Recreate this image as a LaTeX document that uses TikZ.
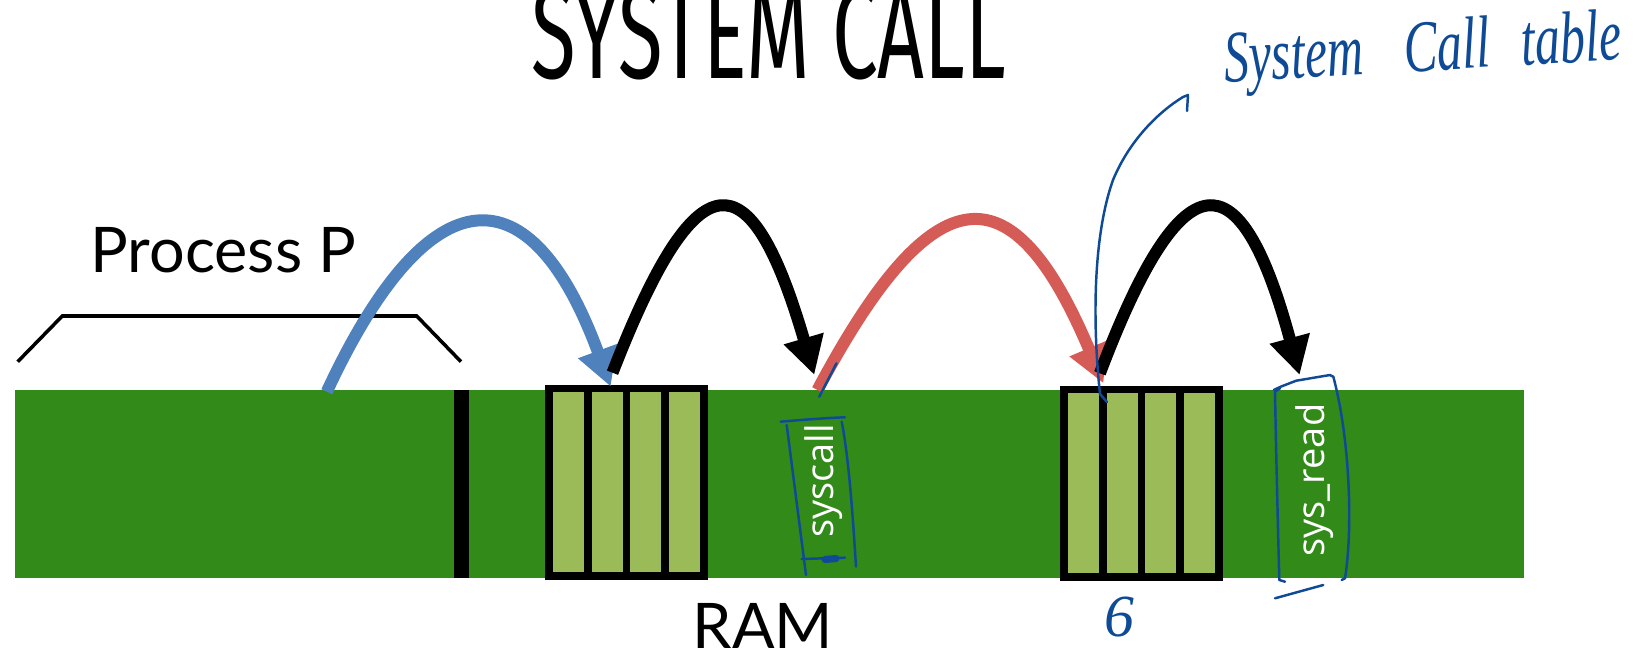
\documentclass[tikz,border=0pt]{standalone}
\usepackage{graphicx}
\usepackage{fontspec}
\setmainfont{Lato}
\newfontfamily\titlefont{Fira Sans}
\newfontfamily\cellfont{Open Sans}
\newfontfamily\inkfont{Liberation Serif}
\usetikzlibrary{arrows.meta,calc}

\definecolor{ramgreen}{RGB}{50,138,25}
\definecolor{cellgreen}{RGB}{155,187,89}
\definecolor{jumpblue}{RGB}{79,129,189}
\definecolor{jumpred}{RGB}{213,91,86}
\definecolor{ink}{RGB}{14,74,150}

\tikzset{
  tablebox/.style={fill=black, minimum width=1.63cm, minimum height=1.95cm, inner sep=0pt, outer sep=0pt},
  tablecell/.style={fill=cellgreen, minimum width=0.311cm, minimum height=1.80cm, inner sep=0pt, outer sep=0pt},
  jump/.style={line width=0.12cm, -{Triangle[length=0.38cm,width=0.39cm]}},
  pen/.style={ink, line width=0.7pt, line cap=round, line join=round},
  handtext/.style={ink, font=\inkfont\itshape, inner sep=0pt},
  celltext/.style={white, font=\cellfont\fontsize{10.8}{10.8}\selectfont, rotate=90, inner sep=0pt}
}

\begin{document}
\begin{tikzpicture}
		\useasboundingbox (0,0) rectangle (16.33,6.49);

		% the memory strip
		\fill[ramgreen] (0.15,0.713) rectangle (15.24,2.59);
		\fill[black] (4.54,0.713) rectangle (4.69,2.59);% end of process P

		% two tables of four entries each
		\foreach \Name/\X/\Y in {TabA/5.45/0.69, TabB/10.60/0.68}{%
		  \node[tablebox, anchor=south west] (\Name) at (\X,\Y) {};
		  \foreach \i in {1,...,4}{% one entry per slot
			\node[tablecell, anchor=south west] (\Name\i) at ({\X+0.077+(\i-1)*0.388},{\Y+0.077}) {};
		  }
		}

		\node[celltext] (Syscall) at (8.233,1.68) {syscall};
		\node[celltext] (SysRead) at (13.15,1.69) {sys\_read};

		% labels
		\node[font=\titlefont\fontsize{37.5}{37.5}\selectfont, anchor=base] (Title) at (7.69,5.70) {\scalebox{0.62}[1]{SYSTEM CALL}};
		\node[font=\fontsize{17.9}{17.9}\selectfont, anchor=base] (ProcP) at (2.235,3.76) {Process P};
		\node[font=\fontsize{17.9}{17.9}\selectfont, anchor=base] (Ram) at (7.63,0.01) {RAM};
		\draw[line width=1pt] (0.177,2.873) -- (0.623,3.33) -- (4.167,3.33) -- (4.61,2.873);% span of P

		% ends of the jumps
		\coordinate (CallSite)   at (3.268,2.573);
		\coordinate (TabAIn)     at (6.107,2.623);
		\coordinate (TabAOut)    at (6.125,2.763);
		\coordinate (SyscallIn)  at (8.143,2.740);
		\coordinate (SyscallOut) at (8.175,2.590);
		\coordinate (TabBIn)     at (11.034,2.657);
		\coordinate (TabBOut)    at (10.999,2.757);
		\coordinate (SysReadIn)  at (12.996,2.740);

		\draw[jump, jumpblue] (CallSite) .. controls (4.30,4.79) and (5.31,4.79) .. (TabAIn);
		\draw[jump, black] (TabAOut) .. controls (6.97,4.94) and (7.50,4.94) .. (SyscallIn);
		\draw[jump, jumpred] (SyscallOut) .. controls (9.35,4.80) and (10.13,4.80) .. (TabBIn);
		\draw[jump, black] (TabBOut) .. controls (11.825,4.94) and (12.40,4.94) .. (SysReadIn);

		% pen notes
		\node[handtext, font=\inkfont\itshape\fontsize{21}{21}\selectfont, rotate=3.3, anchor=base] (TableNote) at (14.24,5.78) {\scalebox{0.68}[1]{System\hspace{0.6cm}Call\hspace{0.45cm}table}};
		\node[handtext, font=\inkfont\itshape\fontsize{17}{17}\selectfont] (Six) at (11.19,0.32) {6};
		\coordinate (HookTop) at (11.83,5.52);
		\draw[pen] ($(TabB2.north west)+(0.005,-0.087)$) -- (11.0,2.55)
		  .. controls (10.93,3.2) and (10.92,4.1) .. (11.13,4.69)
		  .. controls (11.3,5.1) and (11.6,5.38) .. (HookTop) -- (11.88,5.54) -- (11.87,5.38);

		% box round syscall
		\draw[pen] (7.807,2.273) .. controls (8.0,2.29) and (8.25,2.31) .. (8.45,2.317);
		\draw[pen] (7.867,2.24) -- (8.06,0.74);
		\draw[pen] (8.417,2.273) .. controls (8.49,1.9) and (8.53,1.3) .. (8.56,0.823);
		\draw[pen] (8.017,0.90) -- (8.45,0.913);
		\draw[pen, line width=2pt] (8.25,0.895) -- (8.36,0.905);
		\draw[pen] (8.365,2.857) -- (8.193,2.523);

		% brackets round sys_read
		\draw[pen] (12.80,2.607) -- (12.75,2.573) .. controls (12.76,2.0) and (12.78,1.2) .. (12.793,0.69) -- (12.85,0.673);
		\draw[pen] (12.738,2.59) -- (12.807,2.623) -- (12.962,2.683) -- (13.30,2.74);
		\draw[pen] (13.30,2.74) -- (13.333,2.723) .. controls (13.5,2.1) and (13.53,1.2) .. (13.45,0.707) -- (13.417,0.69);
		\draw[pen] (12.75,0.507) -- (13.233,0.64);
\end{tikzpicture}
\end{document}
